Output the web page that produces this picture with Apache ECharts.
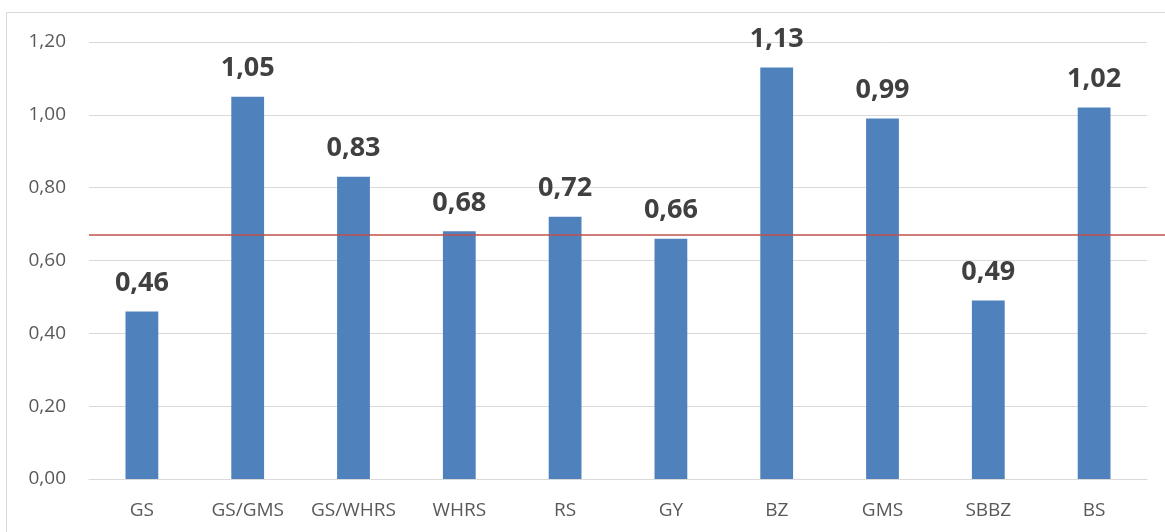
<!DOCTYPE html>
<html>
<head>
<meta charset="utf-8">
<script src="https://cdn.jsdelivr.net/npm/echarts@6/dist/echarts.min.js"></script>
<style>html,body{margin:0;padding:0;background:#fff}#c{width:1165px;height:532px}</style>
</head>
<body>
<div id="c"></div>
<script>
var categories = ['GS','GS/GMS','GS/WHRS','WHRS','RS','GY','BZ','GMS','SBBZ','BS'];
var values = [0.46, 1.05, 0.83, 0.68, 0.72, 0.66, 1.13, 0.99, 0.49, 1.02];
var referenceValue = 0.672;
var yTicks = {min: 0, max: 1.2, interval: 0.2};

function fmt(v){ return Number(v).toFixed(2).replace('.', ','); }
var FONT = '"Open Sans", "Noto Sans", sans-serif';

var chart = echarts.init(document.getElementById('c'), null, {renderer: 'canvas'});
chart.setOption({
  backgroundColor: '#ffffff',
  animation: false,
  graphic: [{
    type: 'rect', z: -1,
    shape: {x: 6.5, y: 12.5, width: 1300, height: 700},
    style: {fill: 'none', stroke: '#d9d9d9', lineWidth: 1}
  }],
  grid: [
    {left: 89, right: 18, top: 42, bottom: 53, containLabel: false},
    {left: 89, right: 0, top: 42, bottom: 53, containLabel: false}
  ],
  xAxis: [
    {
      type: 'category', gridIndex: 0, data: categories,
      axisLine: {show: true, lineStyle: {color: '#d9d9d9', width: 1}},
      axisTick: {show: false},
      axisLabel: {color: '#595959', fontSize: 19, fontFamily: FONT, margin: 22, interval: 0}
    },
    {type: 'value', gridIndex: 1, min: 0, max: 1, show: false}
  ],
  yAxis: [
    {
      type: 'value', gridIndex: 0, min: yTicks.min, max: yTicks.max, interval: yTicks.interval,
      axisLine: {show: false}, axisTick: {show: false},
      splitLine: {lineStyle: {color: '#d9d9d9', width: 1}},
      axisLabel: {color: '#595959', fontSize: 19, fontFamily: FONT, margin: 23, formatter: fmt}
    },
    {type: 'value', gridIndex: 1, min: yTicks.min, max: yTicks.max, show: false}
  ],
  series: [
    {
      type: 'bar', xAxisIndex: 0, yAxisIndex: 0, data: values,
      barWidth: '31%',
      itemStyle: {color: '#4f81bd'},
      label: {
        show: true, position: 'top', distance: 15,
        color: '#404040', fontSize: 27, fontWeight: 'bold', fontFamily: FONT,
        formatter: function(p){ return fmt(p.value); }
      }
    },
    {
      type: 'line', xAxisIndex: 1, yAxisIndex: 1, data: [],
      markLine: {
        silent: true, symbol: 'none', label: {show: false},
        lineStyle: {color: '#c0504d', width: 1.5, type: 'solid'},
        data: [{yAxis: referenceValue}]
      }
    }
  ]
});
</script>
</body>
</html>
